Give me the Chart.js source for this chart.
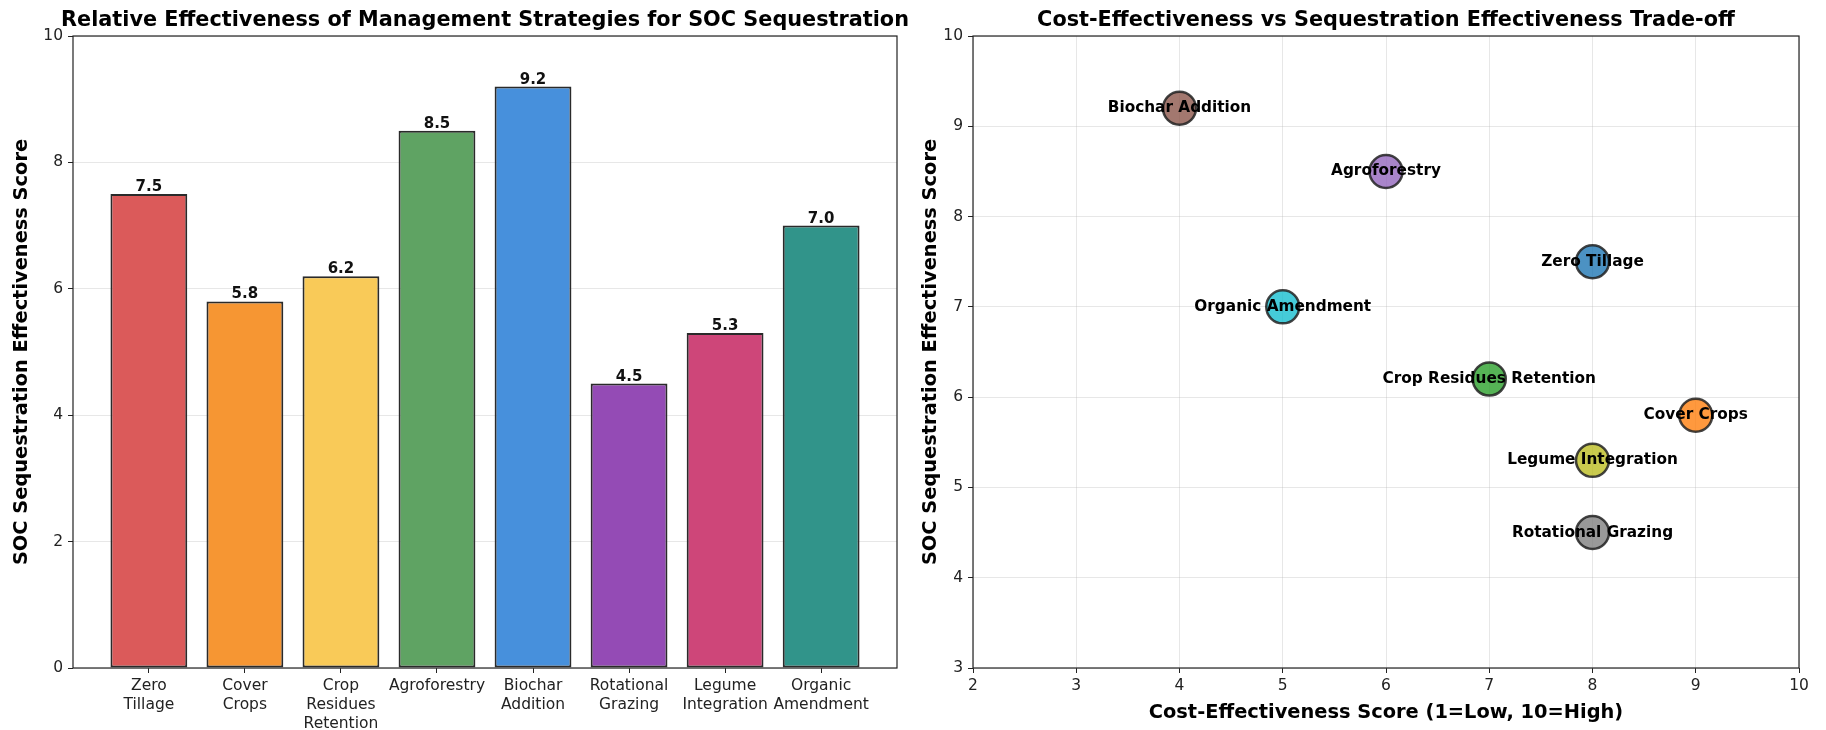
<!DOCTYPE html>
<html>
<head>
<meta charset="utf-8">
<script src="https://cdn.jsdelivr.net/npm/chart.js"></script>
<style>
    body { margin: 0; padding: 0; background: #fff; }
    .panel { position: absolute; top: 0; width: 913px; height: 730px; }
    #leftPanel { left: 0; }
    #rightPanel { left: 913px; }
</style>
</head>
<body>
<div class="panel" id="leftPanel"><canvas id="barChart"></canvas></div>
<div class="panel" id="rightPanel"><canvas id="scatterChart"></canvas></div>
<script>
    // data
    var strategies = ["Zero Tillage", "Cover Crops", "Crop Residues Retention", "Agroforestry",
        "Biochar Addition", "Rotational Grazing", "Legume Integration", "Organic Amendment"];
    var barTickLabels = [["Zero", "Tillage"], ["Cover", "Crops"], ["Crop", "Residues", "Retention"],
        ["Agroforestry"], ["Biochar", "Addition"], ["Rotational", "Grazing"],
        ["Legume", "Integration"], ["Organic", "Amendment"]];
    var sequestration = [7.5, 5.8, 6.2, 8.5, 9.2, 4.5, 5.3, 7.0];
    var costEffectiveness = [8, 9, 7, 6, 4, 8, 8, 5];
    var barColors = ["#db5a5a", "#f69633", "#f9ca58", "#5fa363", "#4790dc", "#944bb5", "#ce4679", "#31948a"];
    var pointColors = ["rgba(31,119,180,0.8)", "rgba(255,127,14,0.8)", "rgba(44,160,44,0.8)",
        "rgba(148,103,189,0.8)", "rgba(140,86,75,0.8)", "rgba(127,127,127,0.8)",
        "rgba(188,189,34,0.8)", "rgba(23,190,207,0.8)"];

    Chart.defaults.font.family = "'DejaVu Sans', sans-serif";
    Chart.defaults.color = "#222";

    var gridColor = "rgba(176,176,176,0.3)";

    // draws the four spines like matplotlib
    var framePlugin = {
        id: "frame",
        afterDatasetsDraw: function (chart) {
            var a = chart.chartArea, ctx = chart.ctx;
            ctx.save();
            ctx.strokeStyle = "#222";
            ctx.lineWidth = 1.2;
            ctx.strokeRect(a.left, a.top, a.right - a.left, a.bottom - a.top);
            ctx.restore();
        }
    };

    // title centred over the plot area, not the whole canvas
    var axesTitlePlugin = {
        id: "axesTitle",
        afterDraw: function (chart, args, opts) {
            var a = chart.chartArea, ctx = chart.ctx;
            ctx.save();
            ctx.font = "bold 20.8px 'DejaVu Sans'";
            ctx.fillStyle = "#000";
            ctx.textAlign = "center";
            ctx.textBaseline = "alphabetic";
            ctx.fillText(opts.text, (a.left + a.right) / 2, 26);
            ctx.restore();
        }
    };

    // value labels above the bars
    var barValuePlugin = {
        id: "barValues",
        afterDatasetsDraw: function (chart) {
            var ctx = chart.ctx;
            var meta = chart.getDatasetMeta(0);
            ctx.save();
            ctx.font = "bold 15px 'DejaVu Sans'";
            ctx.fillStyle = "#111";
            ctx.textAlign = "center";
            ctx.textBaseline = "alphabetic";
            meta.data.forEach(function (bar, i) {
                ctx.fillText(sequestration[i].toFixed(1), bar.x, bar.y - 3);
            });
            ctx.restore();
        }
    };

    // strategy names centred on the bubbles
    var pointLabelPlugin = {
        id: "pointLabels",
        afterDatasetsDraw: function (chart) {
            var ctx = chart.ctx;
            var meta = chart.getDatasetMeta(0);
            ctx.save();
            ctx.font = "bold 15.3px 'DejaVu Sans'";
            ctx.fillStyle = "#000";
            ctx.textAlign = "center";
            ctx.textBaseline = "middle";
            meta.data.forEach(function (pt, i) {
                ctx.fillText(strategies[i], pt.x, pt.y);
            });
            ctx.restore();
        }
    };

    var axisTitleFont = { size: 19.4, weight: "bold" };
    var tickFont = { size: 15.5, lineHeight: 1.2 };

    new Chart(document.getElementById("barChart"), {
        type: "bar",
        data: {
            datasets: [{
                data: sequestration.map(function (v, i) { return { x: i, y: v }; }),
                backgroundColor: barColors,
                borderColor: "#2a2a2a",
                borderWidth: 2,
                borderSkipped: false,
                barPercentage: 0.8,
                categoryPercentage: 1.0
            }]
        },
        options: {
            responsive: true,
            maintainAspectRatio: false,
            animation: false,
            layout: { padding: { top: 36, right: 16, left: 0, bottom: 0 } },
            plugins: {
                legend: { display: false },
                tooltip: { enabled: false },
                title: { display: false },
                axesTitle: { text: "Relative Effectiveness of Management Strategies for SOC Sequestration" }
            },
            scales: {
                x: {
                    type: "linear",
                    min: -0.79,
                    max: 7.79,
                    offset: false,
                    afterBuildTicks: function (scale) {
                        scale.ticks = barTickLabels.map(function (l, i) { return { value: i }; });
                    },
                    afterFit: function (scale) { scale.height = 62; },
                    ticks: {
                        font: tickFont,
                        padding: 4,
                        maxRotation: 0,
                        autoSkip: false,
                        callback: function (value) { return barTickLabels[value]; }
                    },
                    grid: { offset: false, drawOnChartArea: false, drawTicks: true, tickLength: 5, tickColor: "#222" },
                    border: { display: false }
                },
                y: {
                    min: 0,
                    max: 10,
                    afterFit: function (scale) { scale.width = 73; },
                    ticks: { stepSize: 2, font: tickFont, padding: 5 },
                    grid: { color: gridColor, tickLength: 5, tickColor: "#222" },
                    border: { display: false },
                    title: {
                        display: true,
                        text: "SOC Sequestration Effectiveness Score",
                        font: axisTitleFont,
                        color: "#000",
                        padding: { top: 10 }
                    }
                }
            }
        },
        plugins: [framePlugin, barValuePlugin, axesTitlePlugin]
    });

    new Chart(document.getElementById("scatterChart"), {
        type: "scatter",
        data: {
            datasets: [{
                data: costEffectiveness.map(function (c, i) { return { x: c, y: sequestration[i] }; }),
                backgroundColor: pointColors,
                borderColor: "rgba(34,34,34,0.85)",
                borderWidth: 2.5,
                pointRadius: 16.5,
                pointHoverRadius: 16.5
            }]
        },
        options: {
            responsive: true,
            maintainAspectRatio: false,
            animation: false,
            layout: { padding: { top: 36, right: 27, left: 0, bottom: 0 } },
            plugins: {
                legend: { display: false },
                tooltip: { enabled: false },
                title: { display: false },
                axesTitle: { text: "Cost-Effectiveness vs Sequestration Effectiveness Trade-off" }
            },
            scales: {
                x: {
                    type: "linear",
                    min: 2,
                    max: 10,
                    afterFit: function (scale) { scale.height = 62; },
                    ticks: { stepSize: 1, font: tickFont, padding: 4 },
                    grid: { color: gridColor, tickLength: 5, tickColor: "#222" },
                    border: { display: false },
                    title: {
                        display: true,
                        text: "Cost-Effectiveness Score (1=Low, 10=High)",
                        font: axisTitleFont,
                        color: "#000",
                        padding: { bottom: 5 }
                    }
                },
                y: {
                    min: 3,
                    max: 10,
                    afterFit: function (scale) { scale.width = 60; },
                    ticks: { stepSize: 1, font: tickFont, padding: 5 },
                    grid: { color: gridColor, tickLength: 5, tickColor: "#222" },
                    border: { display: false },
                    title: {
                        display: true,
                        text: "SOC Sequestration Effectiveness Score",
                        font: axisTitleFont,
                        color: "#000",
                        padding: { top: 6 }
                    }
                }
            }
        },
        plugins: [framePlugin, pointLabelPlugin, axesTitlePlugin]
    });
</script>
</body>
</html>
